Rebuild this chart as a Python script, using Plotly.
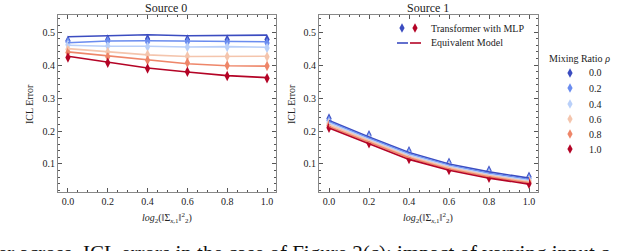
import plotly.graph_objects as go

W, H = 640, 251

x_vals = [0.0, 0.2, 0.4, 0.6, 0.8, 1.0]
ratios = ["0.0", "0.2", "0.4", "0.6", "0.8", "1.0"]
colors = ["#3b4cc0", "#6a8cef", "#b9d0f9", "#f4c5ad", "#ee8669", "#b40426"]

# Source 0 : transformer with MLP (markers) and equivalent model (lines)
s0_markers = [
    [0.474, 0.478, 0.479, 0.478, 0.477, 0.478],
    [0.470, 0.472, 0.470, 0.470, 0.468, 0.467],
    [0.462, 0.458, 0.456, 0.455, 0.455, 0.452],
    [0.448, 0.440, 0.432, 0.427, 0.426, 0.425],
    [0.438, 0.425, 0.415, 0.407, 0.399, 0.397],
    [0.423, 0.407, 0.390, 0.380, 0.367, 0.360],
]
s0_lines = [
    [0.486, 0.488, 0.492, 0.489, 0.489, 0.491],
    [0.468, 0.473, 0.474, 0.473, 0.474, 0.471],
    [0.460, 0.457, 0.457, 0.455, 0.456, 0.454],
    [0.450, 0.440, 0.431, 0.426, 0.427, 0.427],
    [0.440, 0.428, 0.415, 0.404, 0.398, 0.397],
    [0.427, 0.409, 0.391, 0.379, 0.368, 0.362],
]
# Source 1
s1_markers = [
    [0.238, 0.187, 0.139, 0.104, 0.080, 0.061],
    [0.232, 0.182, 0.134, 0.099, 0.075, 0.056],
    [0.226, 0.177, 0.129, 0.095, 0.070, 0.051],
    [0.221, 0.173, 0.125, 0.091, 0.066, 0.048],
    [0.216, 0.168, 0.120, 0.087, 0.062, 0.044],
    [0.210, 0.163, 0.115, 0.082, 0.058, 0.040],
]
s1_lines = [
    [0.232, 0.182, 0.135, 0.100, 0.076, 0.057],
    [0.228, 0.178, 0.131, 0.096, 0.072, 0.053],
    [0.224, 0.174, 0.127, 0.093, 0.068, 0.050],
    [0.219, 0.170, 0.123, 0.089, 0.065, 0.046],
    [0.214, 0.166, 0.119, 0.085, 0.061, 0.043],
    [0.209, 0.161, 0.114, 0.081, 0.057, 0.039],
]

x_ticks = [0.0, 0.2, 0.4, 0.6, 0.8, 1.0]
y_ticks = [0.1, 0.2, 0.3, 0.4, 0.5]

FONT = "Liberation Serif"

fig = go.Figure()

for ax, (mk, ln) in enumerate([(s0_markers, s0_lines), (s1_markers, s1_lines)]):
    xa = "x" if ax == 0 else "x2"
    ya = "y" if ax == 0 else "y2"
    for i in range(len(ratios)):
        fig.add_trace(go.Scatter(
            x=x_vals, y=mk[i], mode="markers", xaxis=xa, yaxis=ya,
            marker=dict(symbol="diamond-tall", size=7.5, color=colors[i]),
            showlegend=False, name=ratios[i]))
    for i in range(len(ratios)):
        fig.add_trace(go.Scatter(
            x=x_vals, y=ln[i], mode="lines", xaxis=xa, yaxis=ya,
            line=dict(color=colors[i], width=1.6),
            showlegend=False, name=ratios[i]))

def px(x):
    return x / W

def py(y):
    return 1 - y / H

axis_common = dict(
    range=[-0.05, 1.045], tickvals=x_ticks, ticktext=[f"{v:.1f}" for v in x_ticks],
    ticks="inside", ticklen=4, tickwidth=1, tickcolor="#555",
    showline=True, linecolor="#888", linewidth=1, mirror="allticks",
    showgrid=False, zeroline=False,
    tickfont=dict(family=FONT, size=10, color="#222"),
    minor=dict(ticks="inside", ticklen=2, dtick=0.05, tick0=0, tickcolor="#555", showgrid=False),
)
yaxis_common = dict(
    range=[0.015, 0.552], tickvals=y_ticks, ticktext=[f"{v:.1f}" for v in y_ticks],
    ticks="inside", ticklen=4, tickwidth=1, tickcolor="#555",
    showline=True, linecolor="#888", linewidth=1, mirror="allticks",
    showgrid=False, zeroline=False,
    tickfont=dict(family=FONT, size=10, color="#222"),
    minor=dict(ticks="inside", ticklen=2, dtick=0.02, tick0=0, tickcolor="#555", showgrid=False),
)

fig.update_layout(
    width=W, height=H, margin=dict(l=0, r=0, t=0, b=0),
    paper_bgcolor="white", plot_bgcolor="white",
    font=dict(family=FONT, color="#222"),
    xaxis=dict(domain=[px(58), px(276)], anchor="y", **axis_common),
    yaxis=dict(domain=[py(192), py(15)], anchor="x", **yaxis_common),
    xaxis2=dict(domain=[px(319), px(538)], anchor="y2", **axis_common),
    yaxis2=dict(domain=[py(192), py(15)], anchor="x2", **yaxis_common),
    showlegend=False,
)

ann = []
# panel titles
ann.append(dict(text="Source 0", x=px(166), y=1.0, xref="paper", yref="paper",
                xanchor="center", yanchor="top", borderpad=0, showarrow=False, font=dict(size=12)))
ann.append(dict(text="Source 1", x=px(428), y=1.0, xref="paper", yref="paper",
                xanchor="center", yanchor="top", borderpad=0, showarrow=False, font=dict(size=12)))
# y titles
for xp in (29, 291):
    ann.append(dict(text="ICL Error", x=px(xp), y=py(104), xref="paper", yref="paper",
                    xanchor="center", yanchor="middle", textangle=-90, showarrow=False,
                    font=dict(size=10)))
# x titles
xt = "<i>log</i><sub>2</sub>(‖Σ<sub><i>x</i>,1</sub>‖<sup>2</sup><sub>2</sub>)"
for xp in (167, 428):
    ann.append(dict(text=xt, x=px(xp), y=py(218), xref="paper", yref="paper",
                    xanchor="center", yanchor="middle", showarrow=False, font=dict(size=10)))

# top legend
ann.append(dict(text="Transformer with MLP", x=px(429), y=py(28), xref="paper", yref="paper",
                xanchor="left", yanchor="middle", showarrow=False, font=dict(size=10)))
ann.append(dict(text="Equivalent Model", x=px(429), y=py(43), xref="paper", yref="paper",
                xanchor="left", yanchor="middle", showarrow=False, font=dict(size=10)))
# mixing ratio legend
ann.append(dict(text="Mixing Ratio <i>ρ</i>", x=px(547), y=py(58), xref="paper", yref="paper",
                xanchor="left", yanchor="middle", showarrow=False, font=dict(size=10)))
leg_y = [73, 88, 104, 119, 134, 149]
for i, r in enumerate(ratios):
    ann.append(dict(text=r, x=px(587), y=py(leg_y[i]), xref="paper", yref="paper",
                    xanchor="left", yanchor="middle", showarrow=False, font=dict(size=10)))

# caption (cut off at bottom of the picture)
ann.append(dict(text="er across",
                x=px(74), y=py(239), xref="paper", yref="paper", xanchor="right", yanchor="top",
                showarrow=False, font=dict(size=21, color="#111")))
ann.append(dict(text="ICL errors in the case of Figure 2(c): impact of varying input c",
                x=px(81), y=py(239), xref="paper", yref="paper", xanchor="left", yanchor="top",
                showarrow=False, font=dict(size=21, color="#111")))

shapes = []

def diamond(cx, cy, color, w=2.6, h=4.8):
    return dict(type="path", xref="paper", yref="paper",
                path=f"M {px(cx)},{py(cy-h)} L {px(cx+w)},{py(cy)} L {px(cx)},{py(cy+h)} L {px(cx-w)},{py(cy)} Z",
                fillcolor=color, line=dict(width=0), layer="above")

shapes.append(diamond(402, 28, colors[0]))
shapes.append(diamond(415, 28, colors[5]))
shapes.append(dict(type="line", xref="paper", yref="paper", x0=px(397), x1=px(408),
                   y0=py(43), y1=py(43), line=dict(color=colors[0], width=1.6)))
shapes.append(dict(type="line", xref="paper", yref="paper", x0=px(410), x1=px(421),
                   y0=py(43), y1=py(43), line=dict(color=colors[5], width=1.6)))
for i in range(len(ratios)):
    shapes.append(diamond(570, leg_y[i], colors[i]))

fig.update_layout(annotations=ann, shapes=shapes)

fig.write_html("out.html", config={"displayModeBar": False},
               post_script="document.body.style.margin='0';document.body.style.overflow='hidden';")
